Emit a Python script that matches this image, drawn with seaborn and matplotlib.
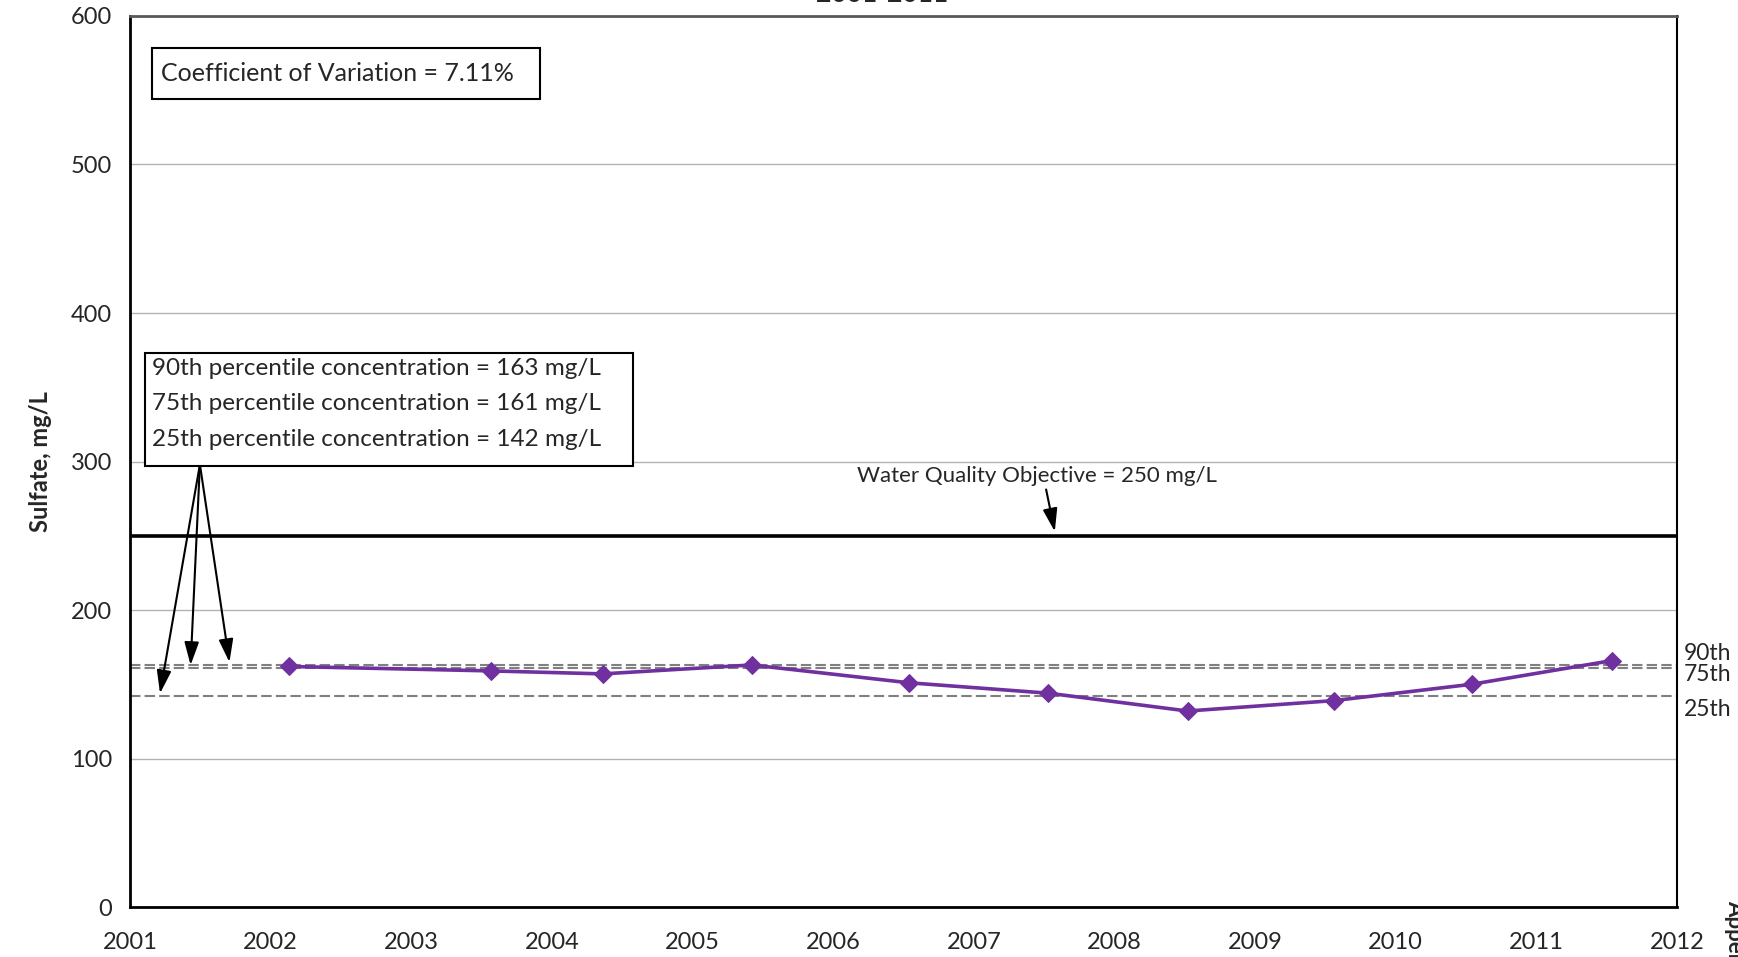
import numpy as np
import pandas as pd
import matplotlib.pyplot as plt
import seaborn as sns
from matplotlib.patches import Rectangle

# sampling dates (decimal years) and sulfate results
years = [2002.13, 2003.57, 2004.36, 2005.42, 2006.54, 2007.53, 2008.52, 2009.56, 2010.54, 2011.54]
sulfate = [162, 159, 157, 163, 151, 144, 132, 139, 150, 166]
pct_names = ["90th", "75th", "25th"]
pct_values = [163, 161, 142]
wqo = 250
cv = 7.11

df = pd.DataFrame({"Year": years, "Sulfate": sulfate})

sns.set_style("white")
plt.rcParams["font.family"] = ["Lato", "DejaVu Sans"]

fig, ax = plt.subplots(figsize=(17.38, 9.57), dpi=100)
fig.subplots_adjust(left=0.0748, right=0.9649, top=0.9833, bottom=0.0522)

ax.set_xlim(2001, 2012)
ax.set_ylim(0, 600)
ax.yaxis.grid(True, color="#b3b3b3", lw=1.0)
ax.set_axisbelow(True)

for val in pct_values:
    ax.axhline(val, color="#808080", lw=1.5, ls=(0, (5, 2)), zorder=2)
ax.axhline(wqo, color="black", lw=2.6, zorder=2)

sns.lineplot(data=df, x="Year", y="Sulfate", ax=ax, color="#7030A0", lw=2.6,
             marker="D", markersize=9.5, markeredgecolor="#7030A0", zorder=4)

ax.set_xticks(range(2001, 2013))
ax.set_xticks(np.arange(2001.5, 2012, 1), minor=True)
ax.set_yticks(range(0, 601, 100))
ax.set_yticks(range(50, 600, 100), minor=True)
ax.tick_params(which="major", direction="inout", length=12, width=1.6, color="black", labelsize=17)
ax.tick_params(which="minor", direction="out", length=6, width=1.6, color="black")
ax.tick_params(axis="x", which="major", pad=12)
ax.tick_params(axis="y", which="major", pad=7)

ax.set_xlabel("")
ax.set_ylabel("Sulfate, mg/L", fontsize=17, fontweight="bold")
ax.yaxis.set_label_coords(-0.0504, 0.5)

for side in ["left", "bottom"]:
    ax.spines[side].set_color("black")
    ax.spines[side].set_linewidth(2)
ax.spines["top"].set_color("#595959")
ax.spines["top"].set_linewidth(2)
ax.spines["right"].set_color("black")
ax.spines["right"].set_linewidth(1.5)

# coefficient of variation box
ax.add_patch(Rectangle((0.0142, 0.9073), 0.2508, 0.0571, transform=ax.transAxes,
                       fc="white", ec="black", lw=1.5, zorder=5))
ax.text(0.0198, 0.935, f"Coefficient of Variation = {cv:.2f}%", transform=ax.transAxes,
        fontsize=18, ha="left", va="center", zorder=6)

# percentile box
pct_text = "\n".join(f"{n} percentile concentration = {v} mg/L" for n, v in zip(pct_names, pct_values))
ax.add_patch(Rectangle((0.0098, 0.4955), 0.3153, 0.1268, transform=ax.transAxes,
                       fc="white", ec="black", lw=1.5, zorder=5))
ax.text(0.0142, 0.565, pct_text, transform=ax.transAxes, fontsize=17.5, ha="left", va="center",
        linespacing=1.85, zorder=6)

arrow = dict(arrowstyle="-|>,head_length=0.7,head_width=0.22", color="black", lw=1.5, mutation_scale=20)
for tx, ty in [(2001.21, 142), (2001.43, 161), (2001.71, 163)]:
    ax.annotate("", xy=(tx, ty), xytext=(2001.497, 298), arrowprops=arrow, zorder=6)

ax.text(2006.17, 290, f"Water Quality Objective = {wqo} mg/L", fontsize=16, ha="left", va="center")
ax.annotate("", xy=(2007.58, 251), xytext=(2007.51, 283), arrowprops=arrow)

for name, val, dy in zip(pct_names, pct_values, [8.5, -4.5, -9.5]):
    ax.annotate(name, xy=(1, val), xycoords=ax.get_yaxis_transform(), xytext=(5, dy),
                textcoords="offset points", ha="left", va="center", fontsize=16.5,
                annotation_clip=False)

fig.text(0.5075, 0.998, "2001-2011", ha="center", va="baseline", fontsize=19, fontweight="bold")
fig.text(0.998, 0.06, "Appendix", rotation=270, ha="center", va="top", fontsize=16, fontweight="bold")

fig.savefig("out.png", dpi=100)
plt.close()
